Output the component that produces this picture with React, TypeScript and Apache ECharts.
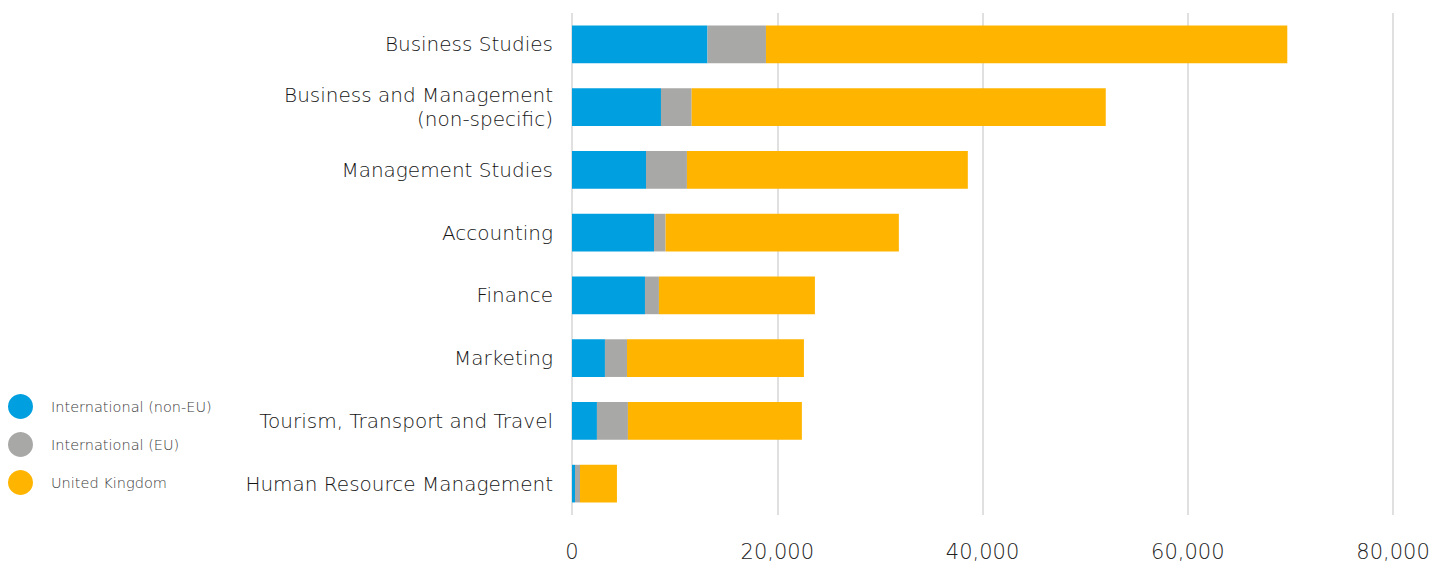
import React, { useEffect, useRef } from "react";
import * as echarts from "echarts";

const categories = [
  "Business Studies",
  "Business and Management\n(non-specific)",
  "Management Studies",
  "Accounting",
  "Finance",
  "Marketing",
  "Tourism, Transport and Travel",
  "Human Resource Management",
];
const nonEU = [13200, 8670, 7210, 7990, 7110, 3210, 2430, 290];
const eu = [5700, 2990, 3990, 1130, 1360, 2150, 3020, 490];
const uk = [50800, 40350, 27370, 22730, 15200, 17240, 16950, 3600];
const seriesNames = ["International (non-EU)", "International (EU)", "United Kingdom"];
const colors = ["#009FDF", "#A8A8A7", "#FFB500"];

export default function App() {
  const ref = useRef<HTMLDivElement>(null);
  useEffect(() => {
    const chart = echarts.init(ref.current!, undefined, { renderer: "svg" });
    const font = "'DejaVu Sans', 'Open Sans', sans-serif";
    const data = [nonEU, eu, uk];
    chart.setOption({
      animation: false,
      textStyle: { fontFamily: font },
      legend: {
        orient: "vertical",
        left: 3,
        top: 389,
        icon: "circle",
        itemWidth: 25,
        itemHeight: 25,
        itemGap: 13,
        data: seriesNames,
        textStyle: { fontSize: 14.5, color: "#3a3a3a", fontFamily: font, fontWeight: 200, padding: [0, 0, 0, 13] },
      },
      grid: { left: 572, right: 55, top: 13, bottom: 51, containLabel: false },
      xAxis: {
        type: "value",
        min: 0,
        max: 80000,
        interval: 20000,
        axisLine: { show: false },
        axisTick: { show: false },
        splitLine: { lineStyle: { color: "#d6d6d6", width: 1.5 } },
        axisLabel: {
          margin: 26,
          fontSize: 21,
          color: "#222",
          fontFamily: font,
          fontWeight: 200,
          formatter: (v: number) => v.toLocaleString("en-US"),
        },
      },
      yAxis: {
        type: "category",
        data: categories,
        inverse: true,
        axisLine: { show: false },
        axisTick: { show: false },
        axisLabel: {
          margin: 19,
          fontSize: 20,
          lineHeight: 24,
          color: "#151515",
          fontFamily: font,
          fontWeight: 200,
        },
      },
      series: seriesNames.map((name, i) => ({
        name,
        type: "bar",
        stack: "total",
        barCategoryGap: "40%",
        data: data[i],
        itemStyle: { color: colors[i] },
      })),
    });
    return () => chart.dispose();
  }, []);
  return (
    <div
      ref={ref}
      style={{ position: "absolute", left: 0, top: 0, width: 1448, height: 566, background: "#fff" }}
    />
  );
}
